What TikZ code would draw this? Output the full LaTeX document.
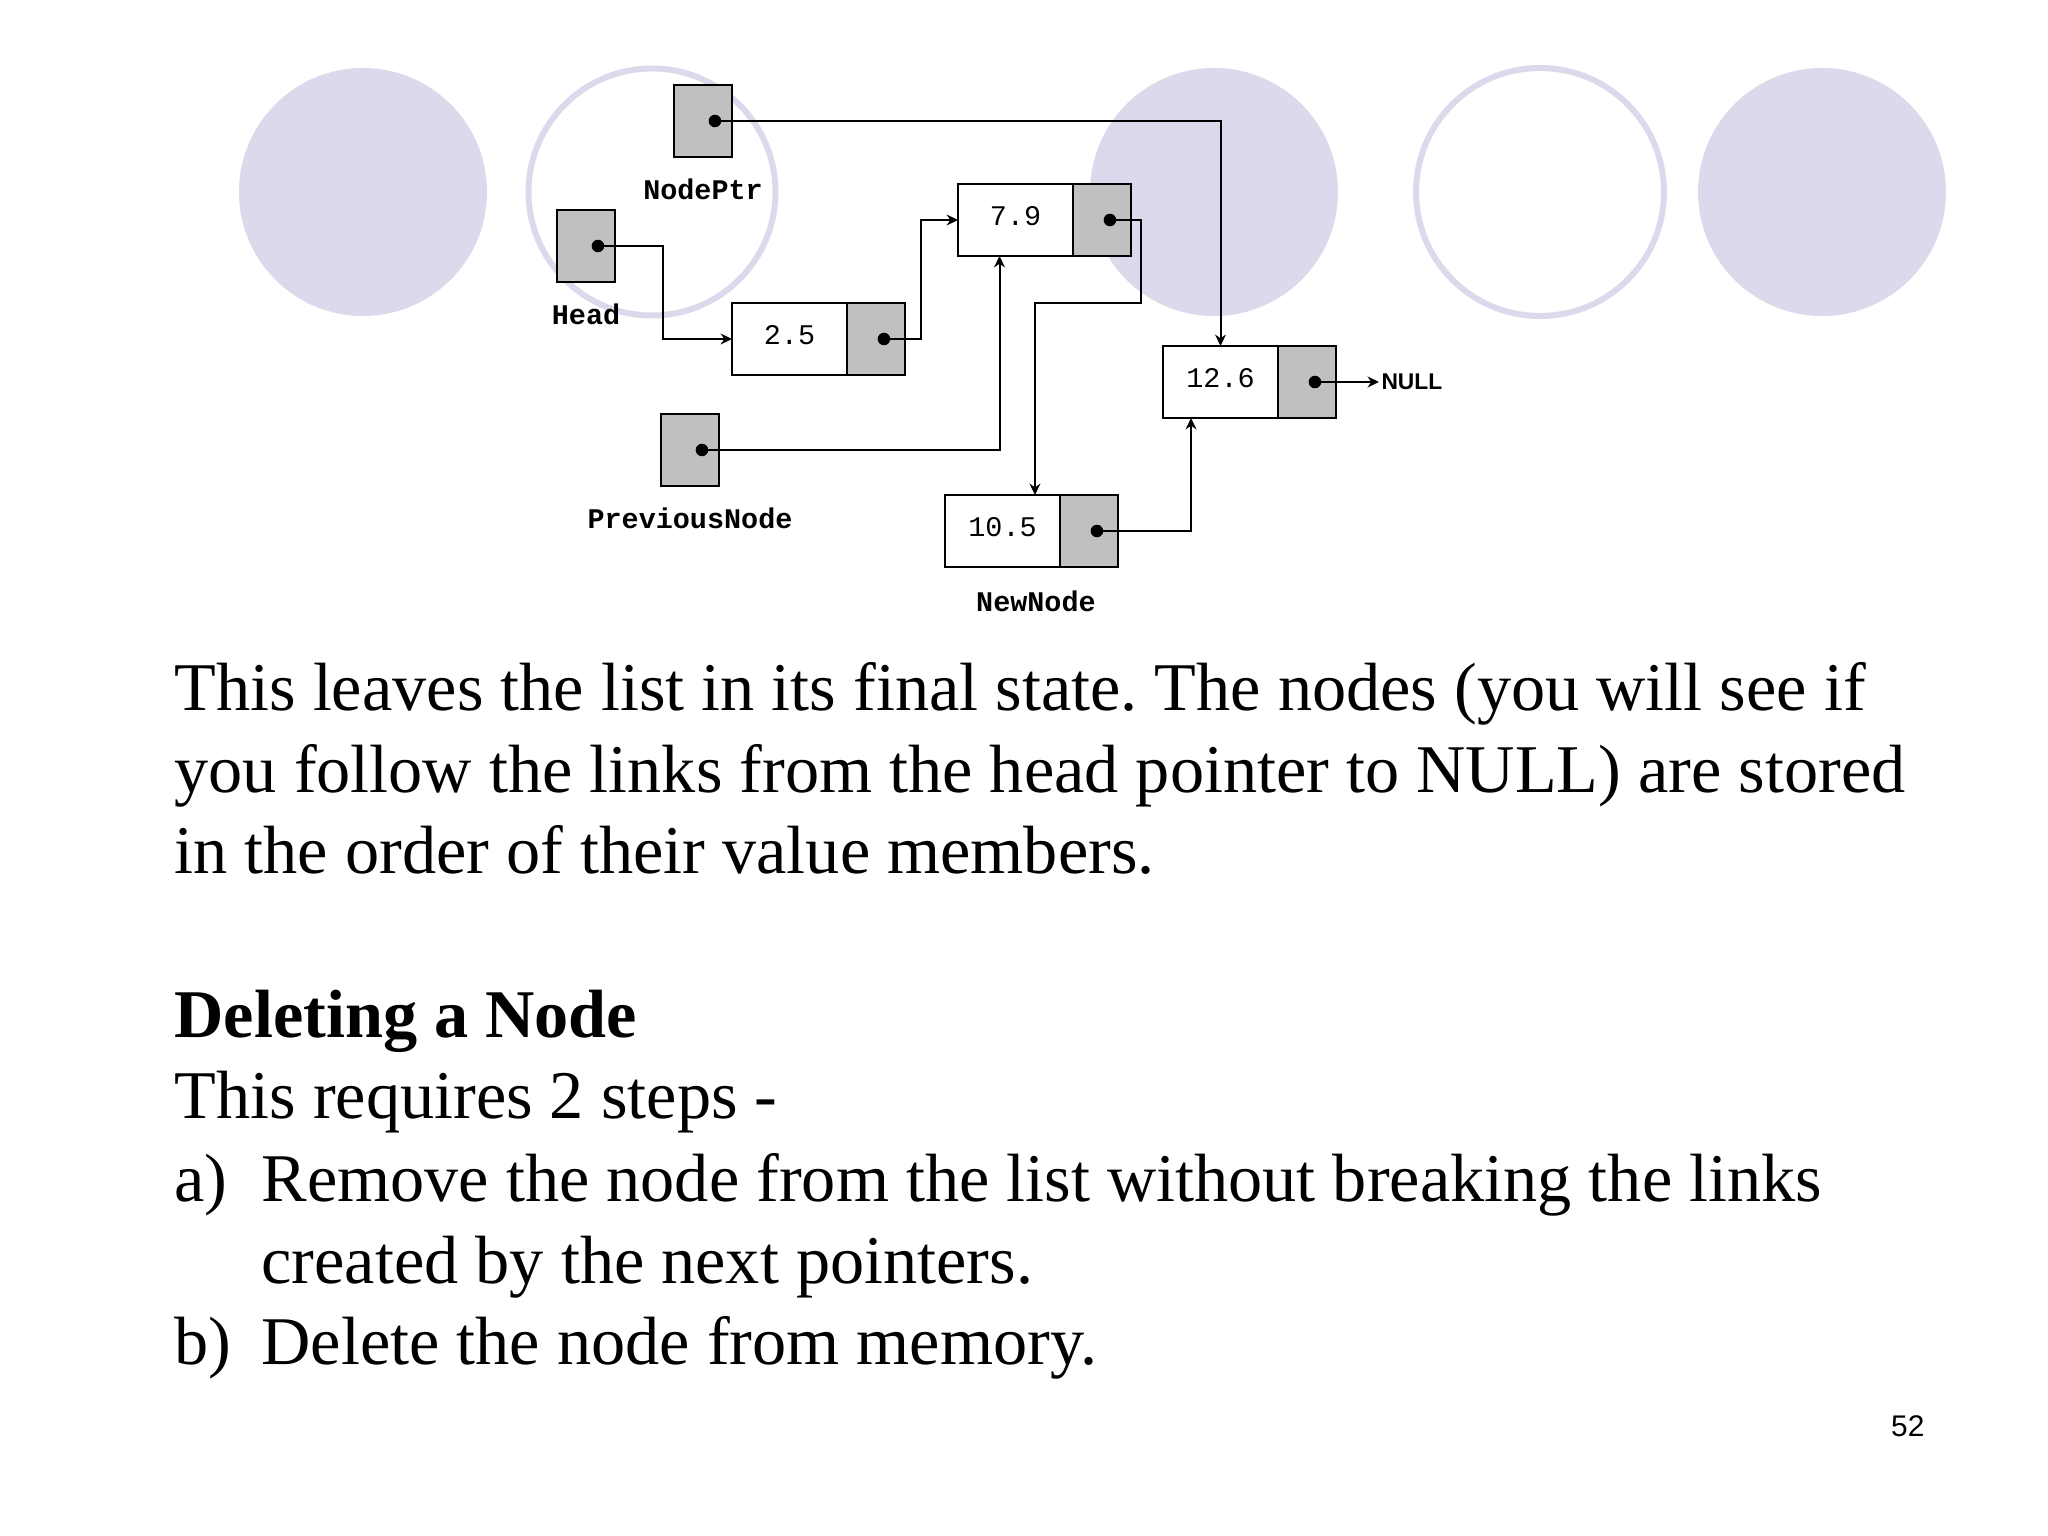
\documentclass[tikz,border=0pt]{standalone}
\usepackage{fontspec}
\setmainfont{Liberation Serif}
\setsansfont{Liberation Sans}
\setmonofont{Liberation Mono}
\usepackage{xcolor}
\definecolor{SlideLavender}{RGB}{219, 217, 235}
\definecolor{BoxGray}{RGB}{192, 192, 192}
\usetikzlibrary{arrows.meta, positioning, calc}
\frenchspacing

\begin{document}
\begin{tikzpicture}[
    x=0.3515625pt, y=-0.3515625pt,
    >={Stealth[length=4pt, width=3.8pt]},
    ring/.style = {draw=SlideLavender, line width=2.1pt},
    disc/.style = {fill=SlideLavender},
    valbox/.style = {
        rectangle, draw, line width=0.8pt, fill=white,
        minimum width=40.4pt, minimum height=25.3pt,
        inner sep=0pt, outer sep=0pt, text depth=2.8pt,
        font=\fontsize{10}{12}\selectfont\ttfamily
    },
    ptrbox/.style = {
        rectangle, draw, line width=0.8pt, fill=BoxGray,
        minimum width=20.4pt, minimum height=25.3pt,
        inner sep=0pt, outer sep=0pt
    },
    ptrdot/.style = {circle, fill=black, inner sep=0pt, minimum size=4.4pt},
    varlabel/.style = {font=\fontsize{10}{12}\selectfont\ttfamily\bfseries, inner sep=0pt},
    bodytext/.style = {anchor=base west, inner sep=0pt, font=\fontsize{24}{28.8}\selectfont},
    link/.style = {->, line width=0.7pt}
]
\useasboundingbox[fill=white] (0,0) rectangle (2048,1536);

% ===== BACKGROUND CIRCLES =====
\fill[disc] (363,192) circle (124);
\draw[ring] (652,192) circle (123.5);
\fill[disc] (1214,192) circle (124);
\draw[ring] (1540,192) circle (124);
\fill[disc] (1822,192) circle (124);

% ===== POINTER VARIABLES =====
\node[ptrbox] (nodeptr) at (703,121) {};
\node[varlabel, below=7.5pt of nodeptr] (nodeptrlbl) {NodePtr};

\node[ptrbox] (head) at (586,246) {};
\node[varlabel, below=7.5pt of head] (headlbl) {Head};

\node[ptrbox] (prevnode) at (690,450) {};
\node[varlabel, below=7.5pt of prevnode] (prevnodelbl) {PreviousNode};

% ===== LIST NODES =====
\node[valbox] (val25) at (789.5,339) {2.5};
\node[ptrbox, right=0pt of val25] (ptr25) {};

\node[valbox] (val79) at (1015.5,220) {7.9};
\node[ptrbox, right=0pt of val79] (ptr79) {};

\node[valbox] (val126) at (1220.5,382) {12.6};
\node[ptrbox, right=0pt of val126] (ptr126) {};
\node[anchor=west, inner sep=0.7pt, font=\fontsize{8}{10}\selectfont\sffamily\bfseries]
    (null) at ($(ptr126.east)+(43,0)$) {NULL};

\node[valbox] (val105) at (1002.5,531) {10.5};
\node[ptrbox, right=0pt of val105] (ptr105) {};
\node[varlabel, anchor=north] (newnodelbl) at ($(val105.south east)+(-24,23)$) {NewNode};

% ===== DOTS =====
\node[ptrdot] (nodeptrdot) at ([xshift=4.2pt]nodeptr.center) {};
\node[ptrdot] (headdot) at ([xshift=4.2pt]head.center) {};
\node[ptrdot] (prevnodedot) at ([xshift=4.2pt]prevnode.center) {};
\node[ptrdot] (ptr25dot) at ([xshift=2.8pt]ptr25.center) {};
\node[ptrdot] (ptr79dot) at ([xshift=2.8pt]ptr79.center) {};
\node[ptrdot] (ptr126dot) at ([xshift=2.8pt]ptr126.center) {};
\node[ptrdot] (ptr105dot) at ([xshift=2.8pt]ptr105.center) {};

% ===== LINKS =====
\draw[link] (nodeptrdot.center) -| (val126.north);
\draw[link] (headdot.center) -- ++(65,0) |- (val25.west);
\draw[link] (ptr25dot.center) -- ++(37,0) |- (val79.west);
\draw[link] (ptr79dot.center) -- ++(31,0) -- ++(0,83) -| ($(val105.north east)+(-25,0)$);
\draw[link] (prevnodedot.center) -| ($(val79.south)+(-16,0)$);
\draw[link] (ptr105dot.center) -| ($(val126.south west)+(28,0)$);
\draw[link] (ptr126dot.center) -- (null.west);

% ===== TEXT =====
\node[bodytext] (para1) at (174,710) {This leaves the list in its final state. The nodes (you will see if};
\node[bodytext] (para2) at (174,792) {you follow the links from the head pointer to NULL) are stored};
\node[bodytext] (para3) at (174,873) {in the order of their value members.};
\node[bodytext, font=\fontsize{24}{28.8}\selectfont\bfseries] (heading) at (174,1037) {Deleting a Node};
\node[bodytext] (steps) at (174,1118) {This requires 2 steps -};
\node[bodytext] (stepa) at (174,1201) {\makebox[30.6pt][l]{a)}Remove the node from the list without breaking the links};
\node[bodytext] (stepa2) at (261,1283) {created by the next pointers.};
\node[bodytext] (stepb) at (174,1364) {\makebox[30.6pt][l]{b)}Delete the node from memory.};
\node[anchor=base east, inner sep=0pt, font=\fontsize{10.5}{12}\selectfont\sffamily] (pagenum) at (1925,1436) {52};
\end{tikzpicture}
\end{document}
